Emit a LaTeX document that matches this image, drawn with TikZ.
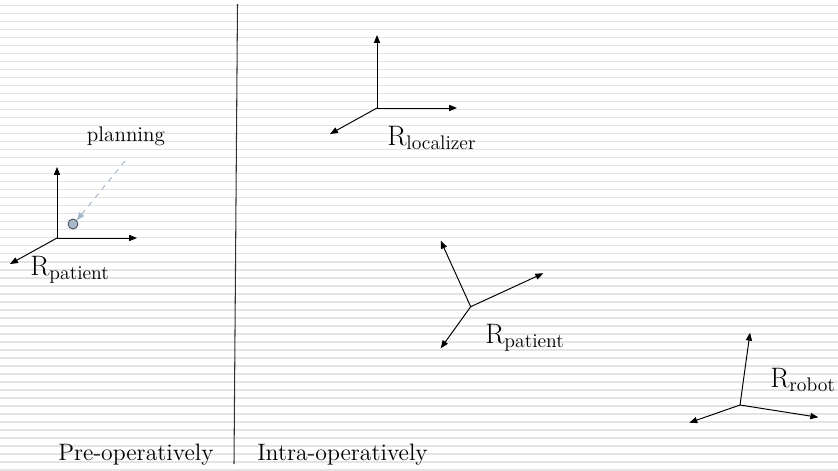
\documentclass[tikz,border=0pt]{standalone}
\usepackage{xcolor}
\usetikzlibrary{arrows.meta}
\definecolor{stripegray}{RGB}{228, 228, 228}
\definecolor{planblue}{RGB}{165, 182, 200}
\definecolor{dotfill}{RGB}{168, 184, 200}
\definecolor{dotline}{RGB}{70, 80, 95}

\begin{document}
\begin{tikzpicture}[
    x=0.02cm, y=-0.02cm,
    axis/.style={-{Triangle[length=4.5pt, width=3.5pt]}, line width=0.55pt, color=black},
    planarrow/.style={-{Triangle[length=4.5pt, width=3.5pt]}, dashed, line width=0.55pt, color=planblue},
    divider/.style={line width=0.6pt, color=black!80},
    frame/.style={font=\fontsize{16}{19}\selectfont, inner sep=0pt, anchor=base west},
    phase/.style={font=\fontsize{13.5}{16}\selectfont, inner sep=0pt, anchor=base west},
    note/.style={font=\fontsize{12}{14}\selectfont, inner sep=0pt, anchor=base}
]
    % Background stripes
    \useasboundingbox (0,0) rectangle (838,470);
    \fill[white] (0,0) rectangle (838,470);
    \foreach \k in {0,...,58}
        \draw[stripegray, line width=2*0.567pt] (0,5.5+8*\k) -- (838,5.5+8*\k);

    % Divider between the two phases
    \coordinate (divtop) at (237.5,4);
    \coordinate (divbot) at (234,464);
    \draw[divider] (divtop) -- (divbot);

    % Pre-operative patient frame
    \coordinate (po)  at (57,238);
    \coordinate (pox) at (137,238);
    \coordinate (poy) at (57,167);
    \coordinate (poz) at (10,264);
    \draw[axis] (po) -- (pox);
    \draw[axis] (po) -- (poy);
    \draw[axis] (po) -- (poz);
    \node[circle, draw=dotline, fill=dotfill, line width=0.5pt,
          minimum size=10*0.567pt, inner sep=0pt] (plan) at (73,224) {};
    \node[note] (plantext) at (126,141) {planning};
    \coordinate (planstart) at (125,161);
    \draw[planarrow] (planstart) -- (plan.north east);
    \node[frame] (ppre) at (30,275) {R\textsubscript{patient}};

    % Localizer frame
    \coordinate (lo)  at (377,108);
    \coordinate (lox) at (457,108);
    \coordinate (loy) at (377,35);
    \coordinate (loz) at (330,134);
    \draw[axis] (lo) -- (lox);
    \draw[axis] (lo) -- (loy);
    \draw[axis] (lo) -- (loz);
    \node[frame] (lloc) at (387,145) {R\textsubscript{localizer}};

    % Intra-operative patient frame
    \coordinate (io)  at (470.7,306.7);
    \coordinate (iox) at (543.3,273.3);
    \coordinate (ioy) at (440.7,240.7);
    \coordinate (ioz) at (440.7,348.3);
    \draw[axis] (io) -- (iox);
    \draw[axis] (io) -- (ioy);
    \draw[axis] (io) -- (ioz);
    \node[frame] (pint) at (485,343) {R\textsubscript{patient}};

    % Robot frame
    \coordinate (ro)  at (740,405);
    \coordinate (rox) at (818.3,417.3);
    \coordinate (roy) at (750,332.7);
    \coordinate (roz) at (689.3,422.7);
    \draw[axis] (ro) -- (rox);
    \draw[axis] (ro) -- (roy);
    \draw[axis] (ro) -- (roz);
    \node[frame] (rrob) at (770,387) {R\textsubscript{robot}};

    % Phase labels
    \node[phase] (pre)   at (58,460)  {Pre-operatively};
    \node[phase] (intra) at (257,460) {Intra-operatively};
\end{tikzpicture}
\end{document}
